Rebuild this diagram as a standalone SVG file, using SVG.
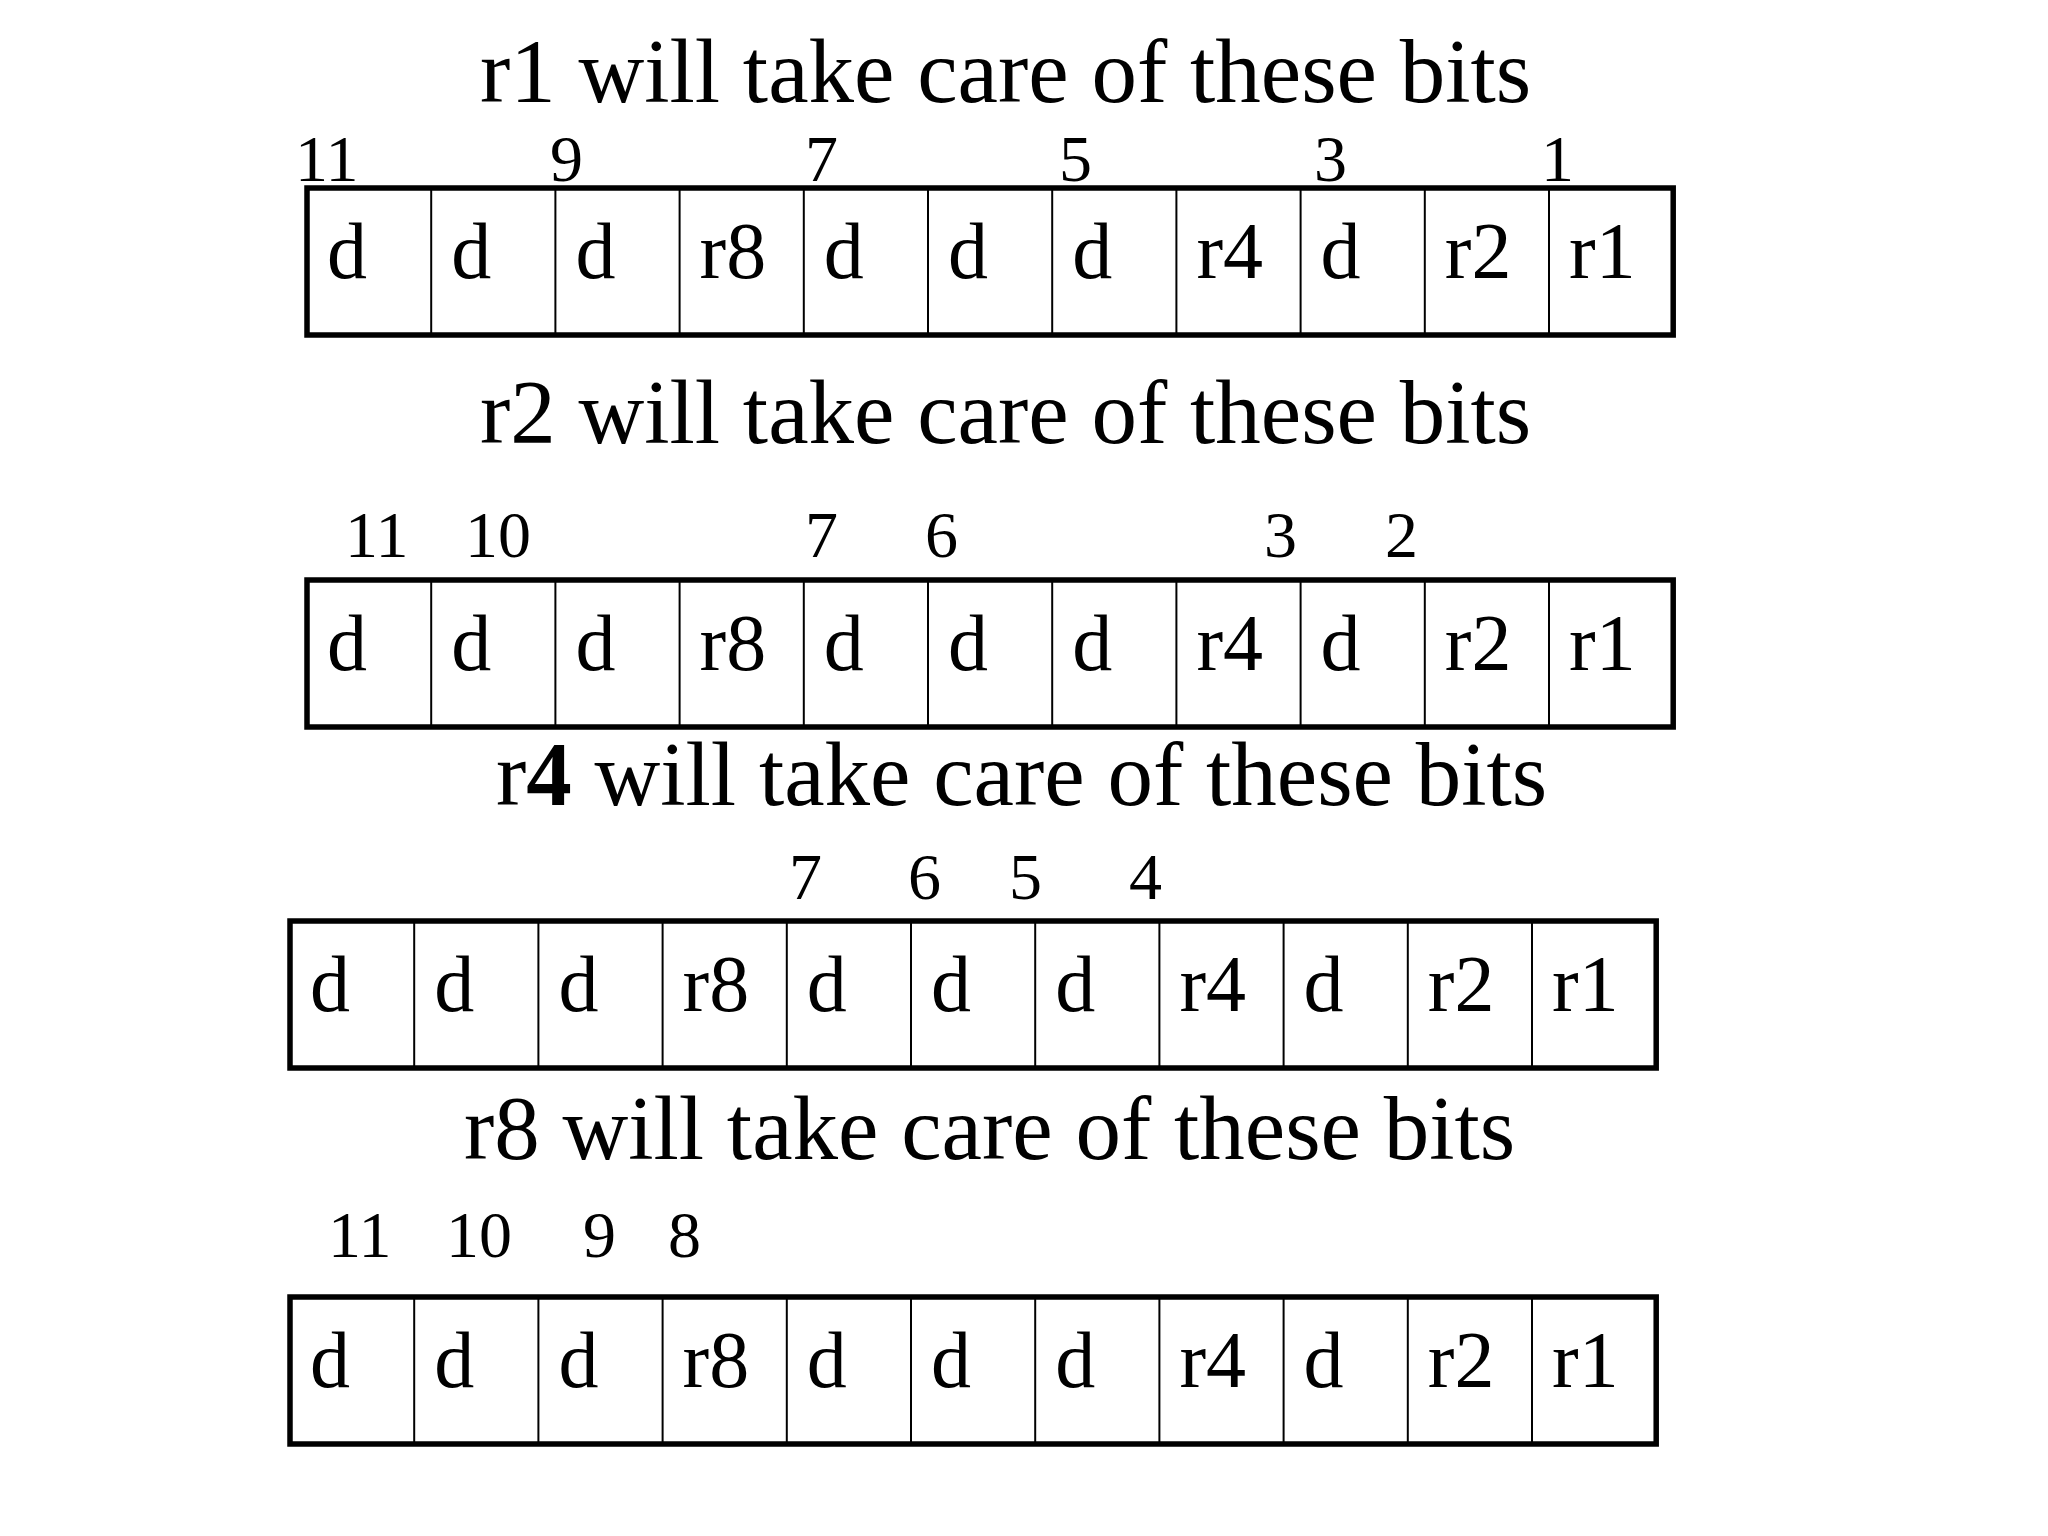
<svg xmlns="http://www.w3.org/2000/svg" width="2048" height="1536" viewBox="0 0 2048 1536">
<style>
.title{font-family:"Liberation Serif","Times New Roman",serif;font-size:91px;fill:#000}
.num{font-family:"Liberation Serif","Times New Roman",serif;font-size:66px;fill:#000}
.cell{font-family:"Liberation Serif","Times New Roman",serif;font-size:80px;fill:#000}
.div{stroke:#000;stroke-width:2}
.frame{fill:none;stroke:#000;stroke-width:5.5}
</style>
<defs>
<g id="reg">
<line class="div" x1="124.2" y1="0" x2="124.2" y2="147"/>
<line class="div" x1="248.4" y1="0" x2="248.4" y2="147"/>
<line class="div" x1="372.6" y1="0" x2="372.6" y2="147"/>
<line class="div" x1="496.8" y1="0" x2="496.8" y2="147"/>
<line class="div" x1="621" y1="0" x2="621" y2="147"/>
<line class="div" x1="745.2" y1="0" x2="745.2" y2="147"/>
<line class="div" x1="869.4" y1="0" x2="869.4" y2="147"/>
<line class="div" x1="993.6" y1="0" x2="993.6" y2="147"/>
<line class="div" x1="1117.8" y1="0" x2="1117.8" y2="147"/>
<line class="div" x1="1242" y1="0" x2="1242" y2="147"/>
<rect class="frame" x="0" y="0" width="1366.2" height="147"/>
<text class="cell" x="20" y="90">d</text>
<text class="cell" x="144.2" y="90">d</text>
<text class="cell" x="268.4" y="90">d</text>
<text class="cell" x="392.6" y="90">r8</text>
<text class="cell" x="516.8" y="90">d</text>
<text class="cell" x="641" y="90">d</text>
<text class="cell" x="765.2" y="90">d</text>
<text class="cell" x="889.4" y="90">r4</text>
<text class="cell" x="1013.6" y="90">d</text>
<text class="cell" x="1137.8" y="90">r2</text>
<text class="cell" x="1262" y="90">r1</text>
</g>
</defs>
<rect width="2048" height="1536" fill="#fff"/>

<g id="section-r1">
<text class="title" x="480" y="102">r1 will take care of these bits</text>
<g id="bits-r1">
<text class="num" x="295" y="181">11</text>
<text class="num" x="550" y="181">9</text>
<text class="num" x="805" y="181">7</text>
<text class="num" x="1059" y="181">5</text>
<text class="num" x="1314" y="181">3</text>
<text class="num" x="1541" y="181">1</text>
</g>
<use id="register-r1" href="#reg" transform="translate(307,188)"/>
</g>

<g id="section-r2">
<text class="title" x="480" y="443">r2 will take care of these bits</text>
<g id="bits-r2">
<text class="num" x="345" y="557">11</text>
<text class="num" x="465" y="557">10</text>
<text class="num" x="805" y="557">7</text>
<text class="num" x="925" y="557">6</text>
<text class="num" x="1264" y="557">3</text>
<text class="num" x="1385" y="557">2</text>
</g>
<use id="register-r2" href="#reg" transform="translate(307,580)"/>
</g>

<g id="section-r4">
<text class="title" x="496" y="805">r<tspan font-weight="bold">4</tspan> will take care of these bits</text>
<g id="bits-r4">
<text class="num" x="789" y="899">7</text>
<text class="num" x="908" y="899">6</text>
<text class="num" x="1009" y="899">5</text>
<text class="num" x="1129" y="899">4</text>
</g>
<use id="register-r4" href="#reg" transform="translate(290,921)"/>
</g>

<g id="section-r8">
<text class="title" x="464" y="1159">r8 will take care of these bits</text>
<g id="bits-r8">
<text class="num" x="328" y="1257">11</text>
<text class="num" x="446" y="1257">10</text>
<text class="num" x="583" y="1257">9</text>
<text class="num" x="668" y="1257">8</text>
</g>
<use id="register-r8" href="#reg" transform="translate(290,1297)"/>
</g>

<g id="connectors"></g>
</svg>
